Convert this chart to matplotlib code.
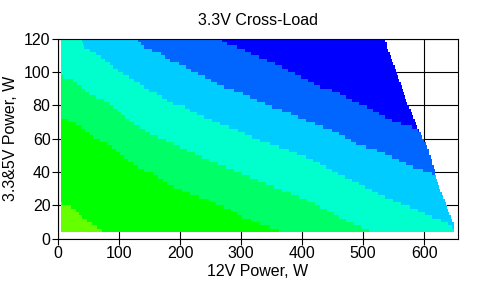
import numpy as np
import matplotlib
matplotlib.use("Agg")
import matplotlib.pyplot as plt
from matplotlib.colors import ListedColormap, BoundaryNorm

plt.rcParams['font.family'] = ['Liberation Sans', 'DejaVu Sans']

# ---- data: region boundaries (12V W, 3.3&5V W) ----
b1_x = [0, 24, 41, 57, 76]
b1_y = [22, 18.5, 12.5, 8.6, 4]

b2_x = [0, 38, 54, 82, 101, 118, 134, 158, 180, 202, 216, 249, 276, 304, 331, 358, 370]
b2_y = [73.5, 67.5, 61.5, 56.6, 51, 46, 42, 38.6, 32.6, 29, 27, 22.6, 18.5, 12.5, 9, 5.5, 4]

b3_x = [0, 21.5, 38, 54, 71, 87, 101, 118, 134, 150, 183, 211, 238, 271, 304, 331, 358,
        391, 418, 437, 446, 462, 484, 506, 516]
b3_y = [98, 95.5, 91.5, 85.5, 84.5, 79.5, 76, 70, 67, 63, 58, 53, 48.5, 43.5, 38.6, 34.5,
        30.5, 25.5, 21.5, 17.5, 16.5, 12.5, 9, 5.5, 4]

b4_x = [38, 43, 60, 76, 92.5, 109, 131, 147, 164, 180, 191, 207, 216, 241, 268, 298, 314,
        342, 375, 402, 427, 451, 479, 506, 538, 566, 593, 615, 631, 642, 650, 655]
b4_y = [120, 114.5, 111.5, 107.5, 102.5, 98.5, 93.5, 89.5, 86.5, 82.5, 80.5, 79.5, 77,
        72.5, 68.5, 64.5, 61.5, 57.5, 53.5, 49.5, 45.5, 40.5, 35.5, 30.5, 24.5, 20.5,
        16.5, 12.5, 10.5, 8.6, 5.5, 3]

b5_x = [128, 144.5, 163.5, 180, 202, 216, 238, 268, 300, 323, 353, 380, 402, 424, 437,
        446, 466, 490, 528, 555, 585, 617]
b5_y = [120, 113.5, 112.5, 107.5, 104.5, 101.5, 97.5, 91.5, 87.5, 83.5, 78.5, 75.5,
        71.5, 68.5, 66.5, 65.5, 62, 56.5, 52.5, 47.5, 42.5, 38.5]

b6_x = [265, 276, 298, 325, 353, 380, 407, 429, 454, 479, 508.5, 533, 552, 577, 590]
b6_y = [120, 117, 114.5, 109.5, 105.5, 100.5, 95.5, 91, 88.5, 83.5, 78.5, 73.5, 70,
        67.5, 65]

edge_x = [536, 538.5, 544, 550, 555, 563, 572, 580, 588, 596, 605, 610, 616, 621, 626,
          635, 643, 648, 650]
edge_y = [120, 116.5, 110.5, 104.5, 99.5, 91.5, 81.5, 75.5, 67.5, 61.5, 55.5, 49.5,
          42.5, 35.5, 29.5, 21.5, 13.5, 9.5, 4]

colors = ['#66FF00', '#00FF00', '#00FF66', '#00FFCC', '#00CCFF', '#0066FF', '#0000FF']
x_ticks = [0, 100, 200, 300, 400, 500, 600]
y_ticks = [0, 20, 40, 60, 80, 100, 120]

title = '3.3V Cross-Load'
xlabel = '12V Power, W'
ylabel = '3.3&5V Power, W'

# ---- build level field on a measurement grid ----
xe = np.arange(4.5, 651.0, 1.0)
ye = np.arange(4.0, 121.0, 2.0)
xc = 0.5 * (xe[:-1] + xe[1:])
yc = 0.5 * (ye[:-1] + ye[1:])
X, Y = np.meshgrid(xc, yc)


def bound(bx, by, yv):
    by = np.asarray(by, float)
    bx = np.asarray(bx, float)
    order = np.argsort(by)
    return np.interp(yv, by[order], bx[order], left=np.inf)


levels = np.zeros_like(X)
for bx, by in [(b1_x, b1_y), (b2_x, b2_y), (b3_x, b3_y), (b4_x, b4_y),
               (b5_x, b5_y), (b6_x, b6_y)]:
    levels += (X > bound(bx, by, Y)).astype(float)

outer = bound(edge_x, edge_y, Y)
Z = np.ma.masked_where(X > outer, levels)

# ---- figure ----
fig = plt.figure(figsize=(4.87, 2.86), dpi=100)
ax = fig.add_axes([0.1195, 0.1657, 0.8203, 0.6993])

cmap = ListedColormap(colors)
norm = BoundaryNorm(np.arange(-0.5, 7.5, 1), cmap.N)
ax.pcolormesh(xe, ye, Z, cmap=cmap, norm=norm, shading='flat', zorder=1)

ax.set_xlim(0, 655)
ax.set_ylim(0, 120)
ax.set_xticks(x_ticks)
ax.set_yticks(y_ticks)
ax.set_axisbelow(True)
ax.grid(True, color='black', linewidth=0.8)
for s in ax.spines.values():
    s.set_linewidth(0.8)
    s.set_zorder(5)
ax.tick_params(direction='out', length=4, width=0.8, labelsize=11.5, pad=1.5,
               colors='black')

ax.set_title(title, fontsize=11.5, pad=10)
ax.set_xlabel(xlabel, fontsize=11.5, labelpad=2)
ax.set_ylabel(ylabel, fontsize=11.5, labelpad=4)

fig.savefig('out.png', dpi=100)
